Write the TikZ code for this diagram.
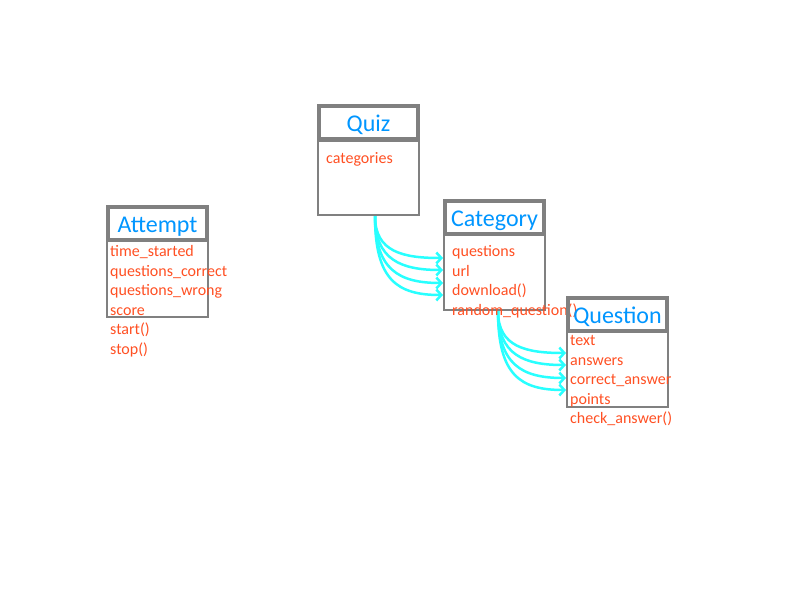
\documentclass[tikz,border=0pt]{standalone}
\usepackage{fontspec}
\setmainfont{Carlito}
\usetikzlibrary{arrows.meta}
\definecolor{boxgray}{RGB}{128,128,128}
\definecolor{titleblue}{RGB}{0,150,255}
\definecolor{attrred}{RGB}{255,80,35}
\definecolor{arrcyan}{RGB}{40,255,255}
\begin{document}
\begin{tikzpicture}[x=1pt,y=-1pt,
  hdr/.style={draw=boxgray, line width=4pt, minimum width=99pt, minimum height=33pt, inner sep=0pt},
  bodybox/.style={draw=boxgray, line width=2pt, minimum width=101pt, inner sep=0pt},
  title/.style={anchor=base, inner sep=0pt, font=\fontsize{24}{24}\selectfont, text=titleblue},
  attr/.style={anchor=base west, inner sep=0pt, font=\fontsize{16}{16}\selectfont, text=attrred},
  link/.style={draw=arrcyan, line width=2.5pt, -{Straight Barb[length=5pt,width=11pt]}}]
\fill[white] (0,0) rectangle (800,600);
\useasboundingbox (0,0) rectangle (800,600);

% connector end points
\coordinate (q0) at (375,216);
\coordinate (c1) at (443,258);
\coordinate (c2) at (443,270);
\coordinate (c3) at (443,283);
\coordinate (c4) at (443,295);
\coordinate (k0) at (498,311);
\coordinate (u1) at (566,353);
\coordinate (u2) at (566,365);
\coordinate (u3) at (566,378);
\coordinate (u4) at (566,390);

\draw[link] (q0) .. controls +(0,36) and +(-40,0) .. (c1);
\draw[link] (q0) .. controls +(0,44) and +(-42,0) .. (c2);
\draw[link] (q0) .. controls +(0,54) and +(-44,0) .. (c3);
\draw[link] (q0) .. controls +(0,64) and +(-46,0) .. (c4);
\draw[link] (k0) .. controls +(0,36) and +(-40,0) .. (u1);
\draw[link] (k0) .. controls +(0,44) and +(-42,0) .. (u2);
\draw[link] (k0) .. controls +(0,54) and +(-44,0) .. (u3);
\draw[link] (k0) .. controls +(0,64) and +(-46,0) .. (u4);

% Quiz
\node[hdr] (quizh) at (368.5,122.5) {};
\node[bodybox, minimum height=74pt] (quizb) at (368.5,178) {};
\node[title] (quizt) at (368.5,131.5) {Quiz};
\node[attr] (quiz1) at (326,163) {categories};

% Attempt
\node[hdr] (atth) at (157.5,223.5) {};
\node[bodybox, minimum height=76pt] (attb) at (157.5,279) {};
\node[title] (attt) at (157.5,232.5) {Attempt};
\node[attr] (att1) at (110,256) {time\_started};
\node[attr] (att2) at (110,276) {questions\_correct};
\node[attr] (att3) at (110,295) {questions\_wrong};
\node[attr] (att4) at (110,315) {score};
\node[attr] (att5) at (110,334) {start()};
\node[attr] (att6) at (110,354) {stop()};

% Category
\node[hdr] (cath) at (494.5,217) {};
\node[bodybox, minimum height=75pt] (catb) at (494.5,272.5) {};
\node[title] (catt) at (494.5,226) {Category};
\node[attr] (cat1) at (452,256) {questions};
\node[attr] (cat2) at (452,276) {url};
\node[attr] (cat3) at (452,295) {download()};
\node[attr] (cat4) at (452,315) {random\_question()};

% Question
\node[hdr] (queh) at (617.5,314) {};
\node[bodybox, minimum height=75pt] (queb) at (617.5,369.5) {};
\node[title] (quet) at (617.5,323) {Question};
\node[attr] (que1) at (570,345) {text};
\node[attr] (que2) at (570,365) {answers};
\node[attr] (que3) at (570,384) {correct\_answer};
\node[attr] (que4) at (570,404) {points};
\node[attr] (que5) at (570,423) {check\_answer()};
\end{tikzpicture}
\end{document}
